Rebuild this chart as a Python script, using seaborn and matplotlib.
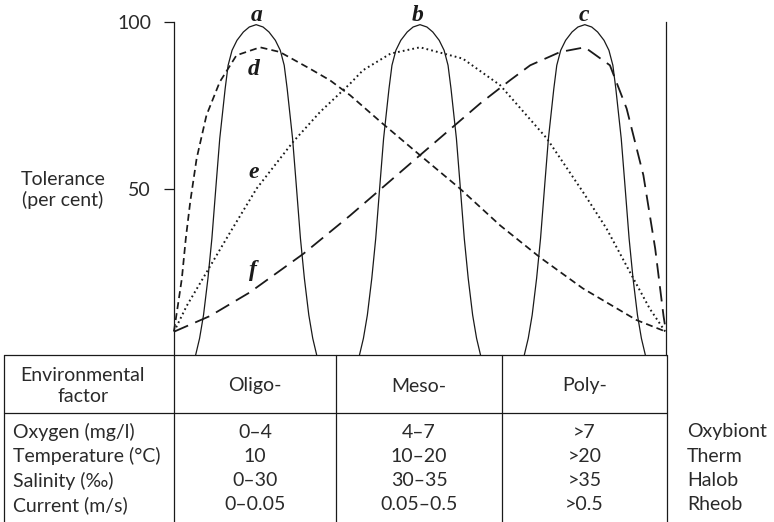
import matplotlib
matplotlib.use("Agg")
import matplotlib.pyplot as plt
import seaborn as sns

# ---------------- data ----------------
# x: position along the environmental gradient (0-100), y: tolerance (per cent)
a_x = [4.4, 5.2, 6.0, 6.9, 7.7, 8.6, 9.3, 10.4, 11.0, 11.8, 12.8, 14.1, 15.3, 16.7,
       18.1, 19.3, 20.6, 21.6, 22.4, 23.0, 24.1, 24.8, 25.7, 26.5, 27.4, 28.2, 29.0]
b_x = [37.7, 38.5, 39.3, 40.2, 41.0, 41.9, 42.6, 43.7, 44.3, 45.1, 46.1, 47.4, 48.6, 50.0,
       51.4, 52.6, 53.9, 54.9, 55.7, 56.3, 57.4, 58.1, 59.0, 59.8, 60.7, 61.5, 62.3]
c_x = [71.2, 72.0, 72.8, 73.7, 74.5, 75.4, 76.1, 77.2, 77.8, 78.6, 79.6, 80.9, 82.1, 83.5,
       84.9, 86.1, 87.4, 88.4, 89.2, 89.8, 90.9, 91.6, 92.5, 93.3, 94.2, 95.0, 95.8]
a_y = [0, 5, 12, 23, 35, 52, 65, 80, 87, 91.5, 94.5, 97, 98.5, 99.2,
       98.5, 97, 94.5, 91.5, 87, 80, 65, 52, 35, 23, 12, 5, 0]
b_y = [0, 5, 12, 23, 35, 52, 65, 80, 87, 91.5, 94.5, 97, 98.5, 99.2,
       98.5, 97, 94.5, 91.5, 87, 80, 65, 52, 35, 23, 12, 5, 0]
c_y = [0, 5, 12, 23, 35, 52, 65, 80, 87, 91.5, 94.5, 97, 98.5, 99.2,
       98.5, 97, 94.5, 91.5, 87, 80, 65, 52, 35, 23, 12, 5, 0]

d_x = [0, 0.8, 1.6, 2.4, 3.3, 4.6, 6.6, 9.3, 12.7, 17.5, 21.5, 27.6, 31.7, 35.8, 42.0, 50.0,
       58.1, 66.3, 74.4, 83.1, 94.0, 100]
d_y = [7.2, 15, 23, 35, 46, 59, 72, 82, 90, 92.4, 91, 86, 82.5, 78, 70, 60,
       50, 38.9, 29.3, 20, 10.5, 7]

e_x = [0, 2.6, 6.6, 11.4, 16.8, 24.2, 29.7, 35.8, 38.4, 44.0, 50.0, 58.7, 66.3,
       75.8, 83.1, 87.9, 92.7, 96.7, 100]
e_y = [7, 14.8, 24.8, 36.8, 50, 64, 73, 81.5, 85.5, 90.5, 92.4, 89, 81,
       65, 49, 38, 24.8, 13.9, 6.7]

f_x = [0, 7.3, 15.4, 26.3, 35.8, 50.0, 62.2, 68.3, 72.4, 78.5, 83.5, 88.6, 92.0,
       95.4, 97.8, 99.5, 100]
f_y = [7, 11.7, 18.8, 30.4, 41.9, 60, 75.5, 82.5, 87, 91, 92.4, 87, 74,
       54, 32, 11.7, 7]

curve_letters = ["a", "b", "c", "d", "e", "f"]
y_ticks = [50, 100]
y_tick_labels = ["50", "100"]
y_label = "Tolerance\n(per cent)"

header_first = "Environmental\nfactor"
zones = ["Oligo-", "Meso-", "Poly-"]
factors = ["Oxygen (mg/l)", "Temperature (\u00b0C)", "Salinity (\u2030)", "Current (m/s)"]
oligo_vals = ["0\u20134", "10", "0\u201330", "0\u20130.05"]
meso_vals = ["4\u20137", "10\u201320", "30\u201335", "0.05\u20130.5"]
poly_vals = [">7", ">20", ">35", ">0.5"]
prefixes = ["Oxybiont", "Therm", "Halob", "Rheob"]

# ---------------- styling ----------------
sns.set_theme(style="white")
plt.rcParams["font.family"] = ["Lato", "DejaVu Sans"]
INK = "#1a1a1a"
TXT = "#2a2a2a"
FS = 14

W, H = 774, 522
fig = plt.figure(figsize=(W / 100, H / 100), dpi=100)

# main curve axes (pixel geometry of reference)
L, R, T, B = 174, 666, 22, 355
ax = fig.add_axes([L / W, 1 - B / H, (R - L) / W, (B - T) / H])
ax.set_xlim(0, 100)
ax.set_ylim(0, 100)

lw_solid = 0.9
for xs, ys in [(a_x, a_y), (b_x, b_y), (c_x, c_y)]:
    sns.lineplot(x=xs, y=ys, ax=ax, color=INK, lw=lw_solid, sort=False,
                 estimator=None, clip_on=False)
sns.lineplot(x=d_x, y=d_y, ax=ax, color=INK, lw=1.25, sort=False, estimator=None,
             linestyle=(0, (4.0, 2.4)), clip_on=False)
sns.lineplot(x=e_x, y=e_y, ax=ax, color=INK, lw=1.4, sort=False, estimator=None,
             linestyle=(0, (0.9, 1.6)), clip_on=False)
sns.lineplot(x=f_x, y=f_y, ax=ax, color=INK, lw=1.3, sort=False, estimator=None,
             linestyle=(0, (8.5, 4.3)), clip_on=False)

letter_pos = [(16.9, 102.0), (49.6, 102.0), (83.3, 102.0),
              (16.1, 85.6), (16.1, 54.7), (16.1, 25.5)]
for lab, (lx, ly) in zip(curve_letters, letter_pos):
    ax.text(lx, ly, lab, ha="center", va="center", fontsize=17,
            fontweight="bold", fontstyle="italic", family="Liberation Serif",
            color=INK)

for s in ["top", "bottom"]:
    ax.spines[s].set_visible(False)
for s in ["left", "right"]:
    ax.spines[s].set_color(INK)
    ax.spines[s].set_linewidth(0.9)
ax.set_xticks([])
ax.set_yticks(y_ticks)
ax.set_yticklabels(y_tick_labels, fontsize=FS, color=TXT)
ax.tick_params(axis="y", which="both", left=True, direction="out", length=7.5,
               width=0.9, color=INK, pad=9)
ax.set_facecolor("none")
ax.grid(False)

fig.text(63 / W, 1 - 190 / H, y_label, ha="center", va="center", fontsize=FS,
         color=TXT, linespacing=1.2)

# ---------------- table ----------------
TL, TR, TT, TB = 4, 667, 355, 522
tab = fig.add_axes([TL / W, 0, (TR - TL) / W, (TB - TT) / H])
tab.set_xlim(TL, TR)
tab.set_ylim(TB, TT)
tab.axis("off")
lw_t = 0.9
tab.plot([TL, TR], [TT, TT], color=INK, lw=lw_t, clip_on=False)
tab.plot([TL, TR], [413, 413], color=INK, lw=lw_t, clip_on=False)
for xv in [TL, 174, 336, 502, TR]:
    tab.plot([xv, xv], [TT, TB], color=INK, lw=lw_t, clip_on=False)

tab.text(83, 386, header_first, ha="center", va="center", fontsize=FS,
         color=TXT, linespacing=1.25)
col_centres = [255, 419, 584.5]
for cx, z in zip(col_centres, zones):
    tab.text(cx, 386, z, ha="center", va="center", fontsize=FS, color=TXT)

row_y = [432, 456, 481, 505]
for ry, fac, o, m, p, pre in zip(row_y, factors, oligo_vals, meso_vals,
                                 poly_vals, prefixes):
    tab.text(13, ry, fac, ha="left", va="center", fontsize=FS, color=TXT)
    tab.text(col_centres[0], ry, o, ha="center", va="center", fontsize=FS, color=TXT)
    tab.text(col_centres[1], ry, m, ha="center", va="center", fontsize=FS, color=TXT)
    tab.text(col_centres[2], ry, p, ha="center", va="center", fontsize=FS, color=TXT)
    tab.text(687, ry, pre, ha="left", va="center", fontsize=FS, color=TXT,
             clip_on=False)

fig.savefig("out.png", dpi=100, facecolor="white")
